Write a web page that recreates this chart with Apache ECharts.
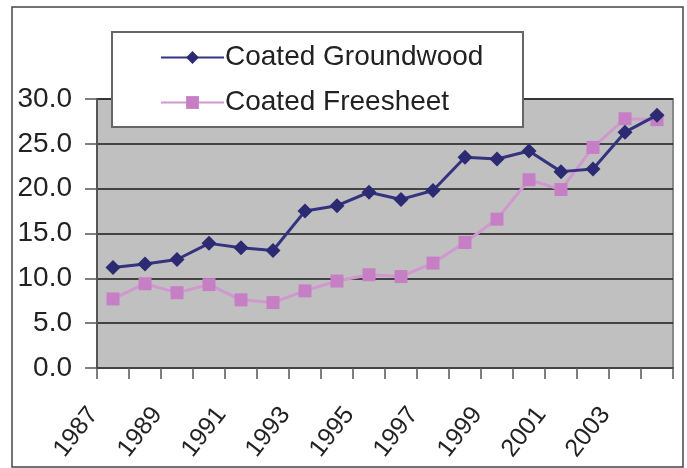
<!DOCTYPE html>
<html>
<head>
<meta charset="utf-8">
<script src="https://cdn.jsdelivr.net/npm/echarts@6/dist/echarts.min.js"></script>
<style>
html,body{margin:0;padding:0;background:#fff;}
#chart{width:687px;height:468px;}
</style>
</head>
<body>
<div id="chart"></div>
<script>
var years = ['1987','1988','1989','1990','1991','1992','1993','1994','1995','1996','1997','1998','1999','2000','2001','2002','2003','2004'];
var groundwood = [11.2, 11.6, 12.1, 13.9, 13.4, 13.1, 17.5, 18.1, 19.6, 18.8, 19.8, 23.5, 23.3, 24.2, 21.9, 22.2, 26.3, 28.2];
var freesheet = [7.7, 9.4, 8.4, 9.3, 7.6, 7.3, 8.6, 9.7, 10.4, 10.2, 11.7, 14.0, 16.6, 21.0, 19.9, 24.6, 27.8, 27.7];
var yTicks = [0, 5, 10, 15, 20, 25, 30];

var chart = echarts.init(document.getElementById('chart'), null, {renderer:'canvas'});
var font = 'Liberation Sans, Arial, sans-serif';
chart.setOption({
  animation: false,
  backgroundColor: '#ffffff',
  graphic: [
    {type:'rect', z: 0, shape:{x:12, y:7, width:671, height:460}, style:{fill:'none', stroke:'#444', lineWidth:1.5}},
    {type:'rect', z: 10, shape:{x:112, y:32, width:411, height:95}, style:{fill:'#ffffff', stroke:'#666', lineWidth:2}}
  ],
  grid: {left:97, right:14, top:99, bottom:100, outerBoundsMode:'none', containLabel:false, show:true, backgroundColor:'#c0c0c0', borderColor:'#888', borderWidth:2},
  legend: {
    z: 20,
    orient: 'vertical',
    left: 155, top: 37,
    itemWidth: 63, itemHeight: 16, itemGap: 14,
    textStyle: {fontFamily: font, fontSize: 28, color: '#222', lineHeight: 31, padding:[0,0,0,-4]},
    data: ['Coated Groundwood', 'Coated Freesheet']
  },
  xAxis: {
    type: 'category',
    data: years,
    boundaryGap: true,
    axisLine: {lineStyle:{color:'#444', width:2}},
    axisTick: {show:true, interval:0, length:11, lineStyle:{color:'#555', width:1.5}},
    axisLabel: {interval:1, rotate:52, margin:17, fontFamily:font, fontSize:25, color:'#222', padding:[0,32,16,0]}
  },
  yAxis: {
    type: 'value',
    min: 0, max: 30, interval: 5,
    axisLine: {show:true, lineStyle:{color:'#555', width:2}},
    axisTick: {show:true, length:12, lineStyle:{color:'#555', width:1.5}},
    axisLabel: {margin:25, fontFamily:font, fontSize:28, color:'#222', formatter:function(v){return v.toFixed(1);}},
    splitLine: {show:true, lineStyle:{color:'#1a1a1a', width:1.5}}
  },
  series: [
    {
      name: 'Coated Groundwood', type: 'line', data: groundwood,
      symbol: 'diamond', symbolSize: 15,
      lineStyle: {color:'#35337f', width:3},
      itemStyle: {color:'#2b2a72'},
      z: 3
    },
    {
      name: 'Coated Freesheet', type: 'line', data: freesheet,
      symbol: 'rect', symbolSize: 13,
      lineStyle: {color:'#d197d0', width:3},
      itemStyle: {color:'#c67fc5'},
      z: 2
    }
  ]
});
</script>
</body>
</html>
